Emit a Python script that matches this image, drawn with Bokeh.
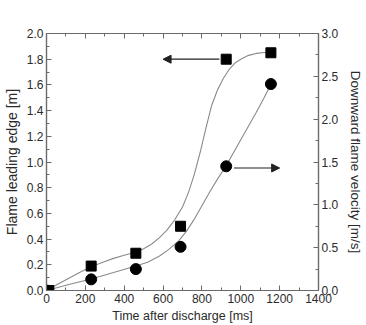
from bokeh.plotting import figure
from bokeh.models import Range1d, LinearAxis, SingleIntervalTicker, Arrow, NormalHead, NumeralTickFormatter
from bokeh.embed import file_html
from bokeh.resources import INLINE

# ---- data ----
time_sq = [12, 230, 460, 690, 925, 1155]           # ms
edge_m = [0.0, 0.19, 0.29, 0.50, 1.80, 1.85]       # Flame leading edge [m]

time_ci = [0, 230, 460, 690, 925, 1155]            # ms
vel_ms = [0.0, 0.13, 0.25, 0.51, 1.45, 2.41]       # Downward flame velocity [m/s]

# fitted curves
fit_edge_t = [0, 60, 115, 170, 230, 290, 345, 400, 460, 500, 540, 580, 620, 660, 700, 730,
              760, 790, 820, 850, 880, 910, 940, 970, 1000, 1040, 1080, 1120, 1160]
fit_edge_v = [0.0, 0.05, 0.095, 0.14, 0.185, 0.22, 0.25, 0.275, 0.30, 0.325, 0.36, 0.41,
              0.47, 0.55, 0.65, 0.76, 0.90, 1.07, 1.26, 1.44, 1.56, 1.65, 1.72, 1.77, 1.80,
              1.83, 1.845, 1.852, 1.855]

fit_vel_t = [0, 115, 230, 345, 460, 520, 580, 630, 680, 720, 760, 800, 840, 880, 923,
             960, 1000, 1040, 1080, 1120, 1160]
fit_vel_v = [0.0, 0.07, 0.135, 0.21, 0.285, 0.33, 0.40, 0.48, 0.58, 0.69, 0.83, 0.99, 1.15,
             1.30, 1.45, 1.60, 1.76, 1.92, 2.08, 2.25, 2.43]

x_title = "Time after discharge [ms]"
yl_title = "Flame leading edge [m]"
yr_title = "Downward flame velocity [m/s]"

FONT = "Liberation Sans"
AX = "#6a6a6a"
TXT = "#2a2a2a"

p = figure(width=366, height=325, output_backend="svg", toolbar_location=None,
           x_range=Range1d(0, 1400), y_range=Range1d(0, 2.0),
           min_border_left=42, min_border_right=47, min_border_top=33, min_border_bottom=35)
p.extra_y_ranges = {"right": Range1d(0, 3.0)}
p.xgrid.visible = False
p.ygrid.visible = False
p.outline_line_color = AX
p.outline_line_width = 1.2
p.background_fill_color = "white"
p.border_fill_color = "white"


def style(ax, label_size="12px"):
    ax.axis_line_color = AX
    ax.axis_line_width = 1.2
    ax.major_tick_line_color = AX
    ax.minor_tick_line_color = AX
    ax.major_tick_in = 5
    ax.major_tick_out = 0
    ax.minor_tick_in = 3
    ax.minor_tick_out = 0
    ax.major_label_text_font = FONT
    ax.major_label_text_font_size = label_size
    ax.major_label_text_color = TXT
    ax.axis_label_text_font = FONT
    ax.axis_label_text_font_style = "normal"
    ax.axis_label_text_color = TXT


xa = p.xaxis[0]
xa.ticker = SingleIntervalTicker(interval=200, num_minor_ticks=2)
style(xa)
xa.axis_label = x_title
xa.axis_label_text_font_size = "12.5px"
xa.major_label_standoff = 3
xa.axis_label_standoff = 3

ya = p.yaxis[0]
ya.ticker = SingleIntervalTicker(interval=0.2, num_minor_ticks=2)
ya.formatter = NumeralTickFormatter(format="0.0")
style(ya)
ya.axis_label = yl_title
ya.axis_label_text_font_size = "14px"
ya.major_label_standoff = 3
ya.axis_label_standoff = 4

ra = LinearAxis(y_range_name="right", ticker=SingleIntervalTicker(interval=0.5, num_minor_ticks=2),
                formatter=NumeralTickFormatter(format="0.0"))
style(ra)
ra.axis_label = yr_title
ra.axis_label_text_font_size = "13.5px"
ra.major_label_standoff = 3
ra.axis_label_standoff = 7
p.add_layout(ra, "right")

ta = LinearAxis(ticker=SingleIntervalTicker(interval=200, num_minor_ticks=2))
style(ta, label_size="0px")
ta.major_label_text_alpha = 0
p.add_layout(ta, "above")

# fitted curves
p.line(fit_edge_t, fit_edge_v, line_color="#8a8a8a", line_width=1.1, line_join="round")
p.line(fit_vel_t, fit_vel_v, line_color="#8a8a8a", line_width=1.1, line_join="round",
       y_range_name="right")

# data points
p.scatter(time_sq, edge_m, marker="square", size=10, fill_color="black", line_color="black")
p.scatter(time_ci, vel_ms, marker="circle", size=11, fill_color="black", line_color="black",
          y_range_name="right")

# arrows pointing to each series' axis
p.add_layout(Arrow(end=NormalHead(size=8, fill_color="#222", line_color="#222"),
                   x_start=890, y_start=1.80, x_end=600, y_end=1.80,
                   line_color="#222", line_width=1.2))
p.add_layout(Arrow(end=NormalHead(size=8, fill_color="#222", line_color="#222"),
                   x_start=965, y_start=1.43, x_end=1200, y_end=1.43,
                   line_color="#222", line_width=1.2, y_range_name="right"))

open("out.html", "w").write(file_html(p, INLINE))
